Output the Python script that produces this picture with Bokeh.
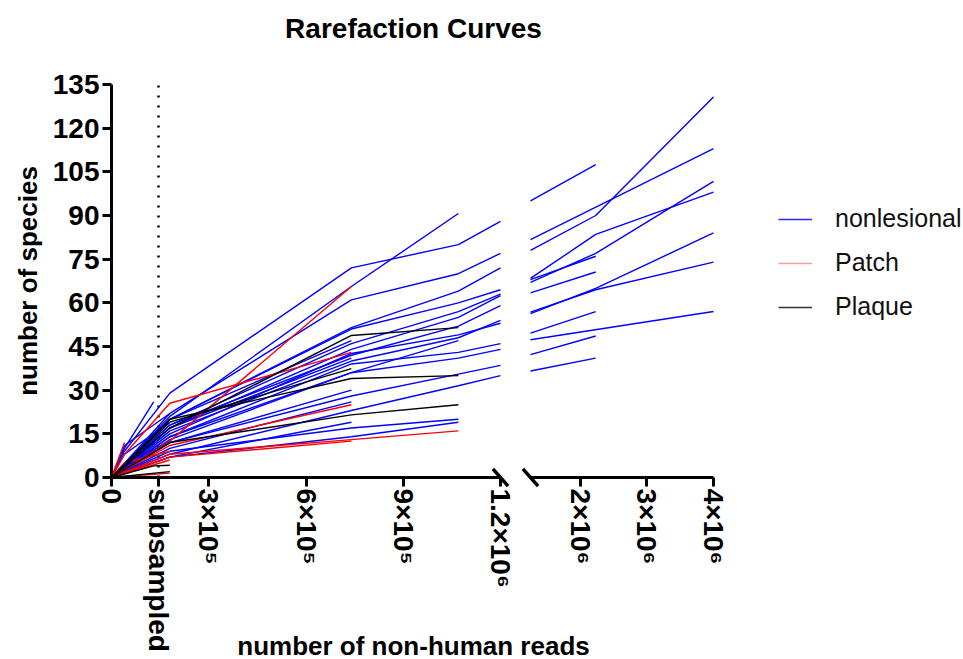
from bokeh.plotting import figure
from bokeh.models import (Range1d, LinearAxis, FixedTicker, Label, Legend, LegendItem)
from bokeh.embed import file_html
from bokeh.resources import INLINE

# ---------------- data ----------------
# sequencing depths (number of non-human reads) at which species were counted
DEPTHS = [0, 40000, 130000, 180000, 740000, 1070000, 1200000, 1250000, 2230000, 4000000]
SUBSAMPLED = 145000
BREAK_LEFT = 1200000      # end of the first axis segment
BREAK_RIGHT = 1250000     # start of the second axis segment
X_MAX = 4000000
Y_MAX = 135

# number of species per sample (None = no point at that depth)
NONLESIONAL = [
    [0, 9, None, 29, 72, 80, 88, 95, 107.5, None],
    [0, None, None, 22, 61, 70, 77, 81.7, None, 113],
    [0, None, None, 20, 51.5, 64, 72, 78, 90, 130.7],
    [0, None, None, 20, 51, 60, 64.5, 68.4, 83.5, 98],
    [0, None, None, 18, 46, 57, 63, 68, 76, None],
    [0, None, None, 17, 44, 55, 62.5, 67, 77, 101.7],
    [0, None, None, 18, 42, 52, 59, 63.4, 70.6, None],
    [0, None, None, 16, 40, 48, 54, 56.8, 64.5, 74],
    [0, None, None, 15, 42.6, 49, 53, 56.3, 65, 84],
    [0, None, None, 14, 39, 43, 46, 49.6, 57, None],
    [0, None, None, 13, 36, 41, 44, 47.3, None, 57],
    [0, None, None, 12, 28, 35.5, 38.5, 42.2, 48.6, None],
    [0, None, None, 8, 23, 31.5, 35, 36.6, 41, None],
    [0, None, None, 21, 65.6, 90.7],
    [0, None, None, 14, 36, 47],
    [0, None, None, 9, 17, 20],
    [0, None, None, 7, 14, 19],
    [0, None, None, 20, 47],
    [0, None, None, 17, 41],
    [0, None, None, 12, 30],
    [0, None, None, 10, 26],
    [0, None, None, 7, 19],
    [0, 10, 26],
    [0, 11, None, 22],
    [0, None, None, 16],
    [0, 5, None, 12],
    [0, 8, None, 19],
]
PATCH = [
    [0, 8, None, 25.5, 43],
    [0, None, None, 12.5, 65.6],
    [0, None, None, 11, 25],
    [0, None, None, 8, 13, 16],
    [0, None, None, 7, 12.5],
    [0, 12],
    [0, None, None, 1.5],
    [0, 5, None, 9],
    [0, None, None, 6],
]
PLAQUE = [
    [0, None, None, 17, 48.8, 51.5],
    [0, None, None, 20, 34, 35],
    [0, None, None, 12, 21.5, 25],
    [0, None, None, 19, 37.4],
    [0, None, 4, 4.2],
    [0, None, None, 2],
]

GROUPS = ["nonlesional", "Patch", "Plaque"]
Y_TICKS = [0, 15, 30, 45, 60, 75, 90, 105, 120, 135]
X_TICKS_LEFT = [0, SUBSAMPLED, 300000, 600000, 900000, 1200000]
X_LABELS_LEFT = ["0", "subsampled", "3×10⁵", "6×10⁵", "9×10⁵", "1.2×10⁶"]
X_TICKS_RIGHT = [2000000, 3000000, 4000000]
X_LABELS_RIGHT = ["2×10⁶", "3×10⁶", "4×10⁶"]

# ---------------- style / layout ----------------
W, H = 963, 659
ZERO_PX, BREAK_L_PX = 111, 500          # screen x of 0 and of the left break
BREAK_R_PX, XMAX_PX = 530, 713          # screen x of the right segment ends
YZERO_PX, YMAX_PX = 477, 84             # screen y of 0 and 135
FONT = "Liberation Sans"
BLUE, RED, BLACK = "#0000ff", "#ff0000", "#000000"
LEGEND_COLORS = ["#2b2bff", "#ff9a9a", "#333333"]
LW = 1.4

pl = (BREAK_L_PX - ZERO_PX) / BREAK_LEFT
pr = (XMAX_PX - BREAK_R_PX) / (X_MAX - BREAK_RIGHT)
py = (YZERO_PX - YMAX_PX) / Y_MAX

# the frame fills the whole canvas; axes are pinned at the zero lines
x_main = Range1d(-ZERO_PX / pl, (W - ZERO_PX) / pl)
x_right = Range1d(BREAK_RIGHT - BREAK_R_PX / pr, X_MAX + (W - XMAX_PX) / pr)
y_rng = Range1d(-(H - YZERO_PX) / py, Y_MAX + YMAX_PX / py)

p = figure(width=W, height=H, x_range=x_main, y_range=y_rng,
           x_axis_location=None, y_axis_location=None, title=None,
           min_border=0, output_backend="svg", toolbar_location=None)
p.extra_x_ranges = {"right": x_right}
p.outline_line_color = None
p.xgrid.grid_line_color = None
p.ygrid.grid_line_color = None
p.background_fill_color = "white"
p.border_fill_color = "white"


def style_axis(ax):
    ax.axis_line_width = 3
    ax.major_tick_line_width = 3
    ax.major_tick_out = 9
    ax.major_tick_in = 0
    ax.minor_tick_out = 0
    ax.minor_tick_in = 0
    ax.major_label_text_font = FONT
    ax.major_label_text_font_style = "bold"
    ax.major_label_text_font_size = "28px"
    ax.major_label_text_color = "black"
    ax.axis_label_text_font = FONT
    ax.axis_label_text_font_style = "bold"
    ax.axis_label_text_font_size = "26px"
    ax.axis_label_text_color = "black"


yax = LinearAxis(ticker=FixedTicker(ticks=Y_TICKS), bounds=(0, Y_MAX), fixed_location=0,
                 axis_label="number of species", axis_label_standoff=7)
style_axis(yax)
yax.major_label_standoff = 3
p.add_layout(yax, "left")

xax_l = LinearAxis(ticker=FixedTicker(ticks=X_TICKS_LEFT), bounds=(0, BREAK_LEFT),
                   fixed_location=0,
                   major_label_overrides={t: s for t, s in zip(X_TICKS_LEFT, X_LABELS_LEFT)})
style_axis(xax_l)
xax_l.major_label_orientation = "vertical"
xax_l.major_label_standoff = 2
p.add_layout(xax_l, "below")

xax_r = LinearAxis(x_range_name="right", ticker=FixedTicker(ticks=X_TICKS_RIGHT),
                   bounds=(BREAK_RIGHT, X_MAX), fixed_location=0,
                   major_label_overrides={t: s for t, s in zip(X_TICKS_RIGHT, X_LABELS_RIGHT)})
style_axis(xax_r)
xax_r.major_label_orientation = "vertical"
xax_r.major_label_standoff = 2
p.add_layout(xax_r, "below")

# subsampling depth marker
p.segment(x0=[SUBSAMPLED], y0=[0], x1=[SUBSAMPLED], y1=[Y_MAX], line_color="black",
          line_width=2.5, line_dash="2 8")


def split(curves):
    lx, ly, rx, ry = [], [], [], []
    for ys in curves:
        pts = [(d, v) for d, v in zip(DEPTHS, ys) if v is not None]
        left = [(d, v) for d, v in pts if d <= BREAK_LEFT]
        right = [(d, v) for d, v in pts if d >= BREAK_RIGHT]
        if len(left) > 1:
            lx.append([d for d, _ in left]); ly.append([v for _, v in left])
        if len(right) > 1:
            rx.append([d for d, _ in right]); ry.append([v for _, v in right])
    return lx, ly, rx, ry


for curves, col in [(NONLESIONAL, BLUE), (PATCH, RED), (PLAQUE, BLACK)]:
    lx, ly, rx, ry = split(curves)
    p.multi_line(xs=lx, ys=ly, line_color=col, line_width=LW)
    if rx:
        p.multi_line(xs=rx, ys=ry, line_color=col, line_width=LW, x_range_name="right")

# axis break marks
p.scatter(x=[BREAK_LEFT], y=[0], marker="dash", size=23, angle=-0.85,
          line_color="black", line_width=3.5)
p.scatter(x=[BREAK_RIGHT], y=[0], marker="dash", size=23, angle=-0.85,
          line_color="black", line_width=3.5, x_range_name="right")

# legend (proxy renderers holding no visible data)
items = []
for name, col in zip(GROUPS, LEGEND_COLORS):
    r = p.line(x=[float("nan")], y=[float("nan")], line_color=col, line_width=1.6)
    items.append(LegendItem(label=name, renderers=[r]))
legend = Legend(items=items, location=(778, 338), margin=0, padding=0,
                glyph_width=34, glyph_height=24, label_height=24, spacing=15,
                label_standoff=23, border_line_color=None, background_fill_alpha=0,
                label_text_font=FONT, label_text_font_size="25px",
                label_text_color="#111111")
p.add_layout(legend)

p.add_layout(Label(x=413, y=H - 28, x_units="screen", y_units="screen",
                   text="Rarefaction Curves", text_align="center", text_baseline="middle",
                   text_font=FONT, text_font_style="bold", text_font_size="28px",
                   text_color="black"))
p.add_layout(Label(x=413, y=H - 645, x_units="screen", y_units="screen",
                   text="number of non-human reads", text_align="center",
                   text_baseline="middle", text_font=FONT, text_font_style="bold",
                   text_font_size="26px", text_color="black"))

open("out.html", "w").write(file_html(p, INLINE))
